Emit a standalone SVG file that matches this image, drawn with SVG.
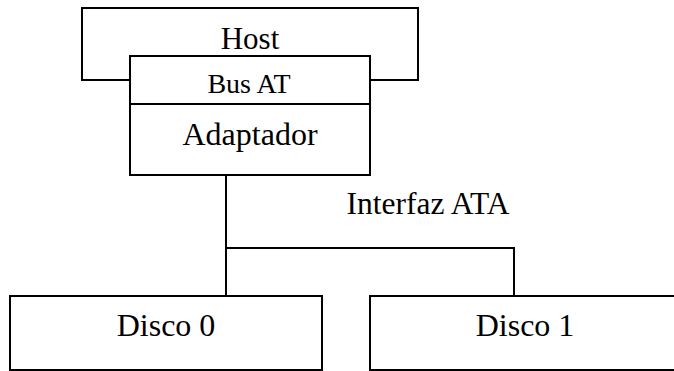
<svg xmlns="http://www.w3.org/2000/svg" width="674" height="371" viewBox="0 0 674 371">
  <style>
    .box { fill: #ffffff; stroke: #000000; stroke-width: 2; }
    .line { fill: none; stroke: #000000; stroke-width: 2; }
    .lbl { font-family: "Liberation Serif", "Times New Roman", serif; fill: #000000; text-anchor: middle; }
  </style>
  <rect x="0" y="0" width="674" height="371" fill="#ffffff"/>
  <g id="host">
    <rect class="box" x="82" y="8" width="336" height="72"/>
    <text class="lbl" x="250" y="49" font-size="31">Host</text>
  </g>
  <g id="adaptador">
    <rect class="box" x="130" y="56" width="240" height="119"/>
    <line class="line" x1="130" y1="104" x2="370" y2="104"/>
    <text class="lbl" x="249" y="92.5" font-size="28">Bus AT</text>
    <text class="lbl" x="250" y="145" font-size="32">Adaptador</text>
  </g>
  <g id="connectors">
    <polyline class="line" points="226,175 226,296"/>
    <polyline class="line" points="226,248 514,248 514,296"/>
    <text class="lbl" x="428" y="214" font-size="31.5">Interfaz ATA</text>
  </g>
  <g id="disco0">
    <rect class="box" x="10" y="296" width="312" height="74"/>
    <text class="lbl" x="166" y="336" font-size="32">Disco 0</text>
  </g>
  <g id="disco1">
    <rect class="box" x="370" y="296" width="312" height="74"/>
    <text class="lbl" x="525" y="336" font-size="32">Disco 1</text>
  </g>
</svg>
